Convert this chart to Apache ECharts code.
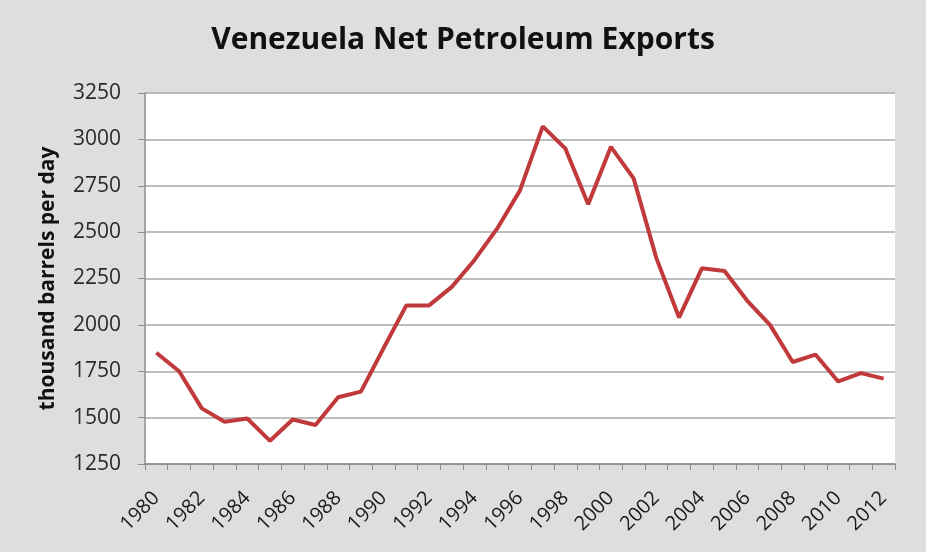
<!DOCTYPE html>
<html>
<head>
<meta charset="UTF-8">
<title>Venezuela Net Petroleum Exports</title>
<style>
  html, body { margin: 0; padding: 0; background: #dedede; }
  #chart { width: 926px; height: 552px; }
</style>
</head>
<body>
<div id="chart"></div>
<script src="https://cdn.jsdelivr.net/npm/echarts@6/dist/echarts.min.js"></script>
<script>
// years on the x axis
var years = [];
for (var y = 1980; y <= 2012; y++) years.push(String(y));

// net exports, thousand barrels per day
var exportsKbd = [
  1850, 1750, 1550, 1478, 1495, 1375, 1490, 1460, 1610, 1640,
  1875, 2105, 2105, 2205, 2350, 2520, 2725, 3070, 2950, 2650,
  2960, 2790, 2360, 2040, 2305, 2290, 2130, 2000, 1800, 1840,
  1695, 1740, 1710
];

var yTicks = [1250, 1500, 1750, 2000, 2250, 2500, 2750, 3000, 3250];

var chart = echarts.init(document.getElementById('chart'));
var option = {
  backgroundColor: '#dedede',
  animation: false,
  title: {
    text: 'Venezuela Net Petroleum Exports',
    left: 'center',
    top: 20,
    textStyle: {
      fontFamily: 'Open Sans',
      fontWeight: 'bold',
      fontSize: 30,
      color: '#111'
    }
  },
  grid: {
    left: 145,
    right: 31,
    top: 93,
    bottom: 88,
    show: true,
    backgroundColor: '#ffffff',
    borderWidth: 0
  },
  xAxis: {
    type: 'category',
    data: years,
    boundaryGap: true,
    axisLine: { lineStyle: { color: '#8c8c8c', width: 1.5 } },
    axisTick: { show: true, interval: 0, length: 6, lineStyle: { color: '#8c8c8c' } },
    axisLabel: {
      interval: 1,
      rotate: 45,
      fontFamily: 'Open Sans',
      fontSize: 20,
      color: '#1a1a1a',
      margin: 31
    },
    splitLine: { show: false }
  },
  yAxis: {
    type: 'value',
    min: yTicks[0],
    max: yTicks[yTicks.length - 1],
    interval: 250,
    name: 'thousand barrels per day',
    nameLocation: 'middle',
    nameGap: 86,
    nameTextStyle: {
      fontFamily: 'Open Sans',
      fontWeight: 'bold',
      fontSize: 21,
      color: '#111'
    },
    axisLine: { show: true, lineStyle: { color: '#8c8c8c', width: 1.5 } },
    axisTick: { show: true, length: 7, lineStyle: { color: '#8c8c8c' } },
    axisLabel: {
      fontFamily: 'Open Sans',
      fontSize: 21,
      color: '#2a2a2a',
      margin: 24,
      formatter: function (v) { return String(v); }
    },
    splitLine: { show: true, lineStyle: { color: '#a8a8a8', width: 1.5 } }
  },
  series: [{
    type: 'line',
    data: exportsKbd,
    symbol: 'none',
    lineStyle: { color: '#c0393b', width: 4 },
    itemStyle: { color: '#c0393b' }
  }]
};
chart.setOption(option);
</script>
</body>
</html>
